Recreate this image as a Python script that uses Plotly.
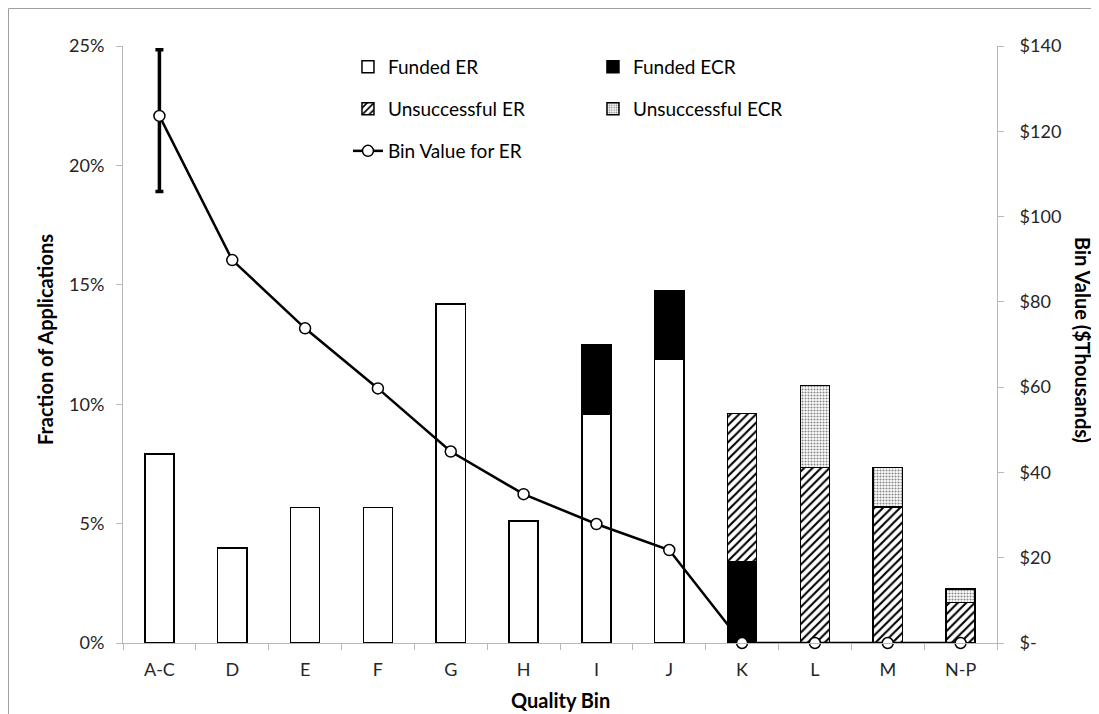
import plotly.graph_objects as go

categories = ["A-C", "D", "E", "F", "G", "H", "I", "J", "K", "L", "M", "N-P"]
funded_er = [0.0792, 0.0397, 0.0567, 0.0567, 0.142, 0.051, 0.096, 0.119, None, None, None, None]
funded_ecr = [None, None, None, None, None, None, 0.0288, 0.0286, 0.0342, None, None, None]
unsucc_er = [None, None, None, None, None, None, None, None, 0.062, 0.0735, 0.0569, 0.0170]
unsucc_ecr = [None, None, None, None, None, None, None, None, None, 0.0343, 0.0166, 0.0057]
bin_value = [123.6, 89.8, 73.8, 59.7, 44.9, 34.9, 27.9, 21.8, 0, 0, 0, 0]
err_plus = [15.5, 0, 0, 0, 0, 0, 0, 0, 0, 0, 0, 0]
err_minus = [17.7, 0, 0, 0, 0, 0, 0, 0, 0, 0, 0, 0]
right_tick_vals = [0, 20, 40, 60, 80, 100, 120, 140]
right_tick_text = ["$-", "$20", "$40", "$60", "$80", "$100", "$120", "$140"]

FONT = "Lato, 'Open Sans', sans-serif"
TXT = "#262626"
AX = "#b8b8b8"
TICK = 18

fig = go.Figure()
line_style = dict(color="black", width=1.5)

fig.add_trace(go.Bar(x=categories, y=funded_er, name="Funded ER",
                     marker=dict(color="white", line=line_style), legend="legend"))
fig.add_trace(go.Bar(x=categories, y=funded_ecr, name="Funded ECR",
                     marker=dict(color="black", line=line_style), legend="legend"))
fig.add_trace(go.Bar(x=categories, y=unsucc_er, name="Unsuccessful ER",
                     marker=dict(color="white", line=line_style,
                                 pattern=dict(shape="/", fgcolor="black", bgcolor="white",
                                              size=6, solidity=0.35, fillmode="replace")),
                     legend="legend2"))
fig.add_trace(go.Bar(x=categories, y=unsucc_ecr, name="Unsuccessful ECR",
                     marker=dict(color="white", line=line_style,
                                 pattern=dict(shape=".", fgcolor="#888888", bgcolor="white",
                                              size=3, solidity=0.4, fillmode="replace")),
                     legend="legend2"))
fig.add_trace(go.Scatter(x=categories, y=bin_value, name="Bin Value for ER", yaxis="y2",
                         mode="lines+markers", cliponaxis=False,
                         line=dict(color="black", width=2.5),
                         marker=dict(symbol="circle", size=11, color="white",
                                     line=dict(color="black", width=1.5)),
                         error_y=dict(type="data", symmetric=False, array=err_plus,
                                      arrayminus=err_minus, color="black",
                                      thickness=3.5, width=4),
                         legend="legend3"))

leg_common = dict(orientation="h", xanchor="left", yanchor="middle",
                  font=dict(family=FONT, size=19, color="black"),
                  bgcolor="rgba(0,0,0,0)", entrywidth=200, traceorder="normal")

fig.update_layout(
    width=1091, height=706,
    margin=dict(l=115, r=102, t=38, b=71),
    paper_bgcolor="white", plot_bgcolor="white",
    barmode="stack", bargap=0.6,
    font=dict(family=FONT, size=TICK, color=TXT),
    xaxis=dict(range=[-0.5, 11.5], automargin=False, showline=True, linecolor=AX,
               linewidth=1, ticks="outside", tickson="boundaries", ticklen=6,
               tickcolor=AX, ticklabelstandoff=10,
               tickfont=dict(family=FONT, size=TICK, color=TXT), showgrid=False),
    yaxis=dict(range=[0, 0.25], dtick=0.05, tickformat=".0%", automargin=False,
               showline=True, linecolor=AX, ticks="outside", ticklen=6, tickcolor=AX,
               showgrid=False, zeroline=False, ticklabelstandoff=8,
               tickfont=dict(family=FONT, size=TICK, color=TXT)),
    yaxis2=dict(range=[0, 140], overlaying="y", side="right", tickvals=right_tick_vals,
                ticktext=right_tick_text, automargin=False, showline=True, linecolor=AX,
                ticks="outside", ticklen=6, tickcolor=AX, showgrid=False, zeroline=False,
                ticklabelstandoff=12,
                tickfont=dict(family=FONT, size=TICK, color=TXT)),
    legend=dict(x=0.2574, y=0.9648, **leg_common),
    legend2=dict(x=0.2574, y=0.8945, **leg_common),
    legend3=dict(x=0.2574, y=0.8241, **leg_common),
    showlegend=True,
)

fig.add_annotation(text="<b>Fraction of Applications</b>", xref="paper", yref="paper",
                   x=-0.0892, y=0.5075, xanchor="center", yanchor="middle",
                   textangle=-90, showarrow=False,
                   font=dict(family=FONT, size=20, color="black"))
fig.add_annotation(text="<b>Bin Value ($Thousands)</b>", xref="paper", yref="paper",
                   x=1.0985, y=0.5075, xanchor="center", yanchor="middle",
                   textangle=90, showarrow=False,
                   font=dict(family=FONT, size=20, color="black"))
fig.add_annotation(text="<b>Quality Bin</b>", xref="paper", yref="paper",
                   x=0.5, y=-0.0955, xanchor="center", yanchor="middle", showarrow=False,
                   font=dict(family=FONT, size=20, color="black"))

fig.add_shape(type="rect", xref="paper", yref="paper", x0=-0.131, x1=1.1098,
              y0=-0.2, y1=1.0628, line=dict(color="#a0a0a0", width=1))

fig.write_html("out.html")
